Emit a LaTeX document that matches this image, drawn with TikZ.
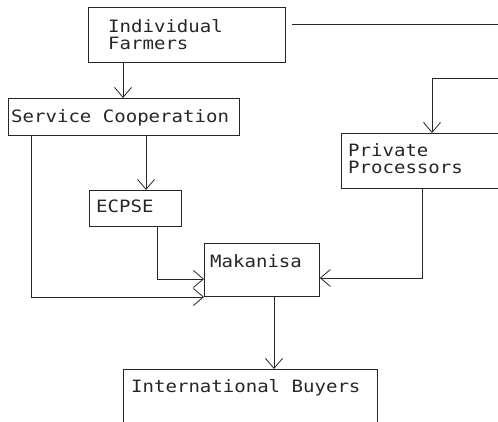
\documentclass[tikz,border=0pt]{standalone}
\usepackage{fontspec}
\setmonofont[FakeStretch=1.12]{DejaVu Sans Mono}
\usetikzlibrary{arrows.meta}
\tikzset{
  box/.style={draw=black!85, line width=0.8pt, anchor=north west, inner sep=0pt},
  lbl/.style={anchor=base west, inner sep=0pt, font=\ttfamily\fontsize{17}{17}\selectfont, text=black!85},
  conn/.style={draw=black!85, line width=0.8pt},
  arr/.style={conn, -{Straight Barb[length=10pt,width=17pt,line width=0.8pt]}}
}
\begin{document}
\begin{tikzpicture}[x=1pt,y=-1pt]
\useasboundingbox (0,0) rectangle (498,422);
\clip (0,0) rectangle (498,422);
% boxes
\node[box, minimum width=197pt, minimum height=55pt] (farm) at (88,7) {};
\node[box, minimum width=231pt, minimum height=37pt] (sc) at (8,98) {};
\node[box, minimum width=92pt, minimum height=36pt] (ecpse) at (89,190) {};
\node[box, minimum width=115pt, minimum height=53pt] (mak) at (204,243) {};
\node[box, minimum width=170pt, minimum height=55pt] (pp) at (341,133) {};
\node[box, minimum width=254pt, minimum height=70pt] (ib) at (123,369) {};
% labels
\node[lbl] (t1) at (108,33) {Individual};
\node[lbl] (t2) at (108,50) {Farmers};
\node[lbl] (t3) at (11,123) {Service Cooperation};
\node[lbl] (t4) at (96,213) {ECPSE};
\node[lbl] (t5) at (210,267) {Makanisa};
\node[lbl] (t6) at (348,157) {Private};
\node[lbl] (t7) at (348,174) {Processors};
\node[lbl] (t8) at (131,392) {International Buyers};
% free ends
\coordinate (e1) at (498,24);
\coordinate (e2) at (498,78);
% connectors
\draw[conn] ([xshift=6pt]farm.east |- e1) -- (e1);
\draw[arr] (farm.south -| 123,0) -- (sc.north -| 123,0);
\draw[arr] (e2) -- (432,78) -- (pp.north -| 432,0);
\draw[arr] (sc.south -| 146,0) -- (ecpse.north -| 146,0);
\draw[arr] (sc.south -| 31,0) -- (31,297) -- (mak.west |- 0,297);
\draw[arr] (ecpse.south -| 157,0) -- (157,279) -- (mak.west |- 0,279);
\draw[arr] (pp.south -| 422,0) -- (422,278) -- (mak.east |- 0,278);
\draw[arr] (mak.south -| 274,0) -- (ib.north -| 274,0);
\end{tikzpicture}
\end{document}
